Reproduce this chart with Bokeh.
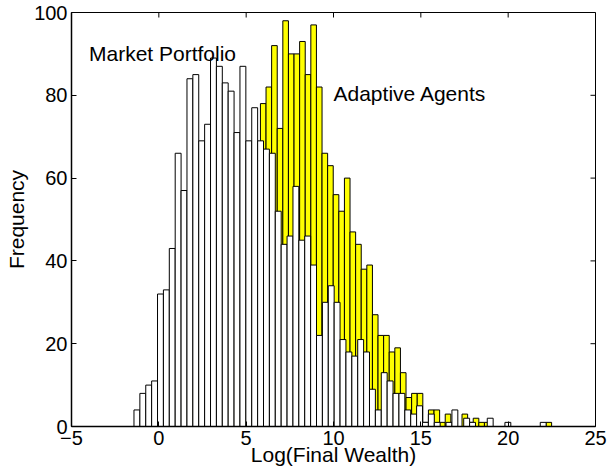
import numpy as np
from bokeh.plotting import figure
from bokeh.models import Range1d, FixedTicker, Label
from bokeh.embed import file_html
from bokeh.resources import INLINE

# Histogram ranges (first/last bin edge) and bin counts
market_range = (-1.423, 22.174)
adaptive_range = (0.046, 22.488)

market_counts = [4, 8, 10, 11, 32, 33, 43, 66, 57, 84,
                 85, 69, 73, 89, 87, 83, 81, 71, 87, 69,
                 77, 69, 67, 66, 52, 44, 46, 58, 45, 46,
                 39, 22, 30, 34, 30, 21, 18, 17, 21, 18,
                 9, 4, 13, 11, 8, 8, 4, 3, 5, 1,
                 3, 1, 0, 1, 4, 0, 2, 1, 0, 0,
                 2, 0, 0, 1, 0, 0, 0, 0, 0, 1]

adaptive_counts = [1, 2, 3, 5, 7, 9, 12, 15, 19, 23,
                   27, 32, 37, 42, 47, 52, 57, 63, 78, 82,
                   92, 72, 98, 90, 90, 93, 85, 97, 82, 66,
                   63, 56, 52, 60, 47, 44, 38, 39, 27, 22,
                   22, 18, 19, 13, 7, 8, 8, 1, 4, 4,
                   1, 3, 1, 0, 3, 1, 2, 1, 1, 0,
                   0, 0, 0, 0, 0, 0, 0, 0, 0, 1]

x_ticks = [-5, 0, 5, 10, 15, 20, 25]
y_ticks = [0, 20, 40, 60, 80, 100]
x_lim = (-5, 25)
y_lim = (0, 100)

FONT = "Liberation Sans"
FW, FH = 524, 414
TICK = 5

m_edges = np.linspace(market_range[0], market_range[1], len(market_counts) + 1)
a_edges = np.linspace(adaptive_range[0], adaptive_range[1], len(adaptive_counts) + 1)

p = figure(frame_width=FW, frame_height=FH,
           x_range=Range1d(*x_lim), y_range=Range1d(*y_lim),
           output_backend="svg", toolbar_location=None,
           min_border_left=71, min_border_right=12,
           min_border_top=12, min_border_bottom=45)

p.xgrid.visible = False
p.ygrid.visible = False
p.outline_line_color = "black"
p.outline_line_width = 1
p.background_fill_color = "white"
p.border_fill_color = "white"

p.quad(left=a_edges[:-1], right=a_edges[1:], bottom=0, top=adaptive_counts,
       fill_color="#ffff00", line_color="black", line_width=1)
p.quad(left=m_edges[:-1], right=m_edges[1:], bottom=0, top=market_counts,
       fill_color="white", line_color="black", line_width=1)

for ax, ticks in ((p.xaxis[0], x_ticks), (p.yaxis[0], y_ticks)):
    ax.ticker = FixedTicker(ticks=ticks)
    ax.axis_line_color = "black"
    ax.axis_line_width = 1.5
    ax.major_tick_line_color = "black"
    ax.major_tick_in = TICK
    ax.major_tick_out = 0
    ax.minor_tick_line_color = None
    ax.major_label_text_font = FONT
    ax.major_label_text_color = "black"
    ax.major_label_text_font_size = "20px"
    ax.axis_label_text_font = FONT
    ax.axis_label_text_font_size = "21px"
    ax.axis_label_text_font_style = "normal"
    ax.axis_label_text_color = "black"

p.xaxis[0].major_label_standoff = 4
p.yaxis[0].major_label_standoff = 4
p.xaxis[0].major_label_overrides = {-5: "\u22125"}

p.xaxis[0].axis_label = "Log(Final Wealth)"
p.xaxis[0].axis_label_standoff = -5
p.yaxis[0].axis_label = "Frequency"
p.yaxis[0].axis_label_standoff = 3

# mirrored inward ticks on the top and right edges (box on)
dx = TICK * (x_lim[1] - x_lim[0]) / FW
dy = TICK * (y_lim[1] - y_lim[0]) / FH
p.segment(x0=x_ticks, x1=x_ticks, y0=[y_lim[1]] * len(x_ticks),
          y1=[y_lim[1] - dy] * len(x_ticks), line_color="black", line_width=1)
p.segment(x0=[x_lim[1]] * len(y_ticks), x1=[x_lim[1] - dx] * len(y_ticks),
          y0=y_ticks, y1=y_ticks, line_color="black", line_width=1)

p.add_layout(Label(x=-4.0, y=90, text="Market Portfolio", text_font=FONT,
                   text_font_size="21px", text_baseline="alphabetic", text_color="black"))
p.add_layout(Label(x=10.0, y=80.5, text="Adaptive Agents", text_font=FONT,
                   text_font_size="21px", text_baseline="alphabetic", text_color="black"))

open("out.html", "w").write(file_html(p, INLINE))
